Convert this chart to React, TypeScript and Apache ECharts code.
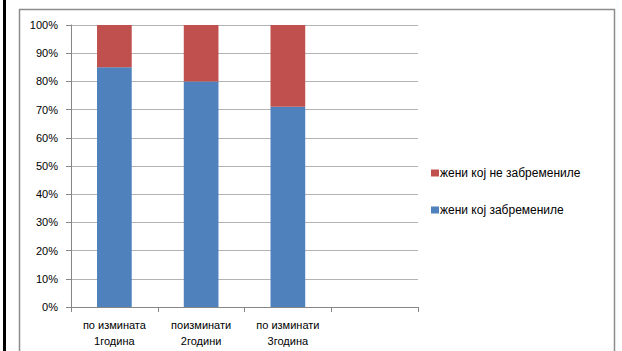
import React, { useEffect, useRef } from "react";
import * as echarts from "echarts";

const categories = ["по измината\n1година", "поизминати\n2години", "по изминати\n3година", ""];
const pregnant = [85, 80, 71, null];
const notPregnant = [15, 20, 29, null];
const seriesNames = ["жени кој не забремениле", "жени кој забремениле"];
const yTicks = [0, 10, 20, 30, 40, 50, 60, 70, 80, 90, 100];

const FONT = "Liberation Sans";

export default function App() {
  const ref = useRef<HTMLDivElement>(null);
  useEffect(() => {
    if (!ref.current) return;
    const chart = echarts.init(ref.current, undefined, { renderer: "svg" });
    chart.setOption({
      animation: false,
      backgroundColor: "#ffffff",
      grid: { left: 71, top: 25, width: 347, height: 282 },
      graphic: [
        { type: "rect", shape: { x: 3, y: 0, width: 3, height: 351 }, style: { fill: "#000" } },
        {
          type: "rect",
          shape: { x: 19.5, y: 9.5, width: 595, height: 400 },
          style: { fill: "none", stroke: "#8c8c8c", lineWidth: 1.5 },
        },
      ],
      legend: {
        orient: "vertical",
        left: 426,
        top: 162,
        itemGap: 25,
        itemWidth: 8,
        itemHeight: 7,
        icon: "rect",
        data: seriesNames,
        textStyle: { fontFamily: FONT, fontSize: 12, color: "#000", padding: [0, 0, 0, -4] },
      },
      xAxis: {
        type: "category",
        data: categories,
        boundaryGap: true,
        axisLine: { lineStyle: { color: "#868686" } },
        axisTick: { show: true, alignWithLabel: false, length: 5, lineStyle: { color: "#868686" } },
        axisLabel: { fontFamily: FONT, fontSize: 11, color: "#000", lineHeight: 16, margin: 10, interval: 0 },
      },
      yAxis: {
        type: "value",
        min: yTicks[0],
        max: yTicks[yTicks.length - 1],
        interval: 10,
        axisLine: { show: true, lineStyle: { color: "#868686" } },
        axisTick: { show: true, length: 5, lineStyle: { color: "#868686" } },
        splitLine: { lineStyle: { color: "#b3b3b3" } },
        axisLabel: { fontFamily: FONT, fontSize: 11, color: "#000", margin: 13, formatter: "{value}%" },
      },
      series: [
        {
          name: seriesNames[1],
          type: "bar",
          stack: "total",
          data: pregnant,
          barWidth: "40%",
          itemStyle: { color: "#4F81BD" },
        },
        {
          name: seriesNames[0],
          type: "bar",
          stack: "total",
          data: notPregnant,
          barWidth: "40%",
          itemStyle: { color: "#C0504D" },
        },
      ],
    });
    return () => chart.dispose();
  }, []);
  return (
    <div
      ref={ref}
      style={{ position: "fixed", left: 0, top: 0, width: 622, height: 351 }}
    />
  );
}
